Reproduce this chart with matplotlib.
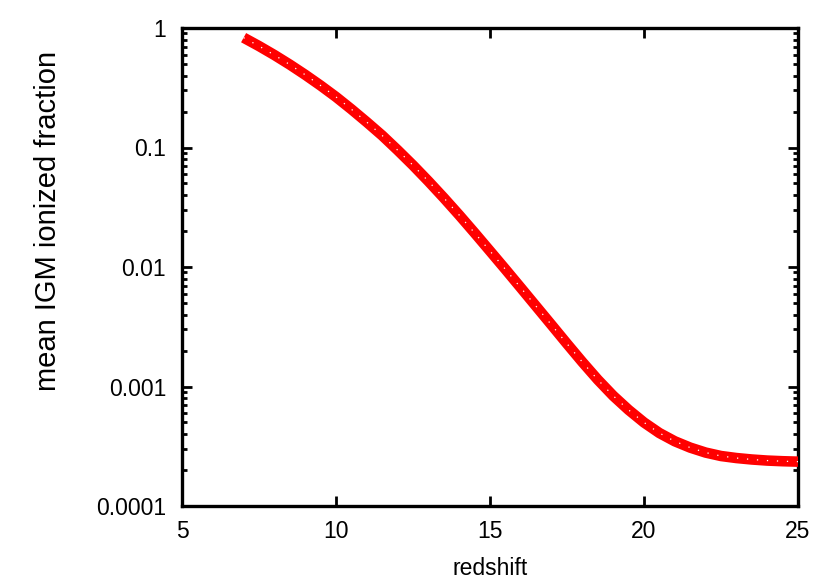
import numpy as np
import matplotlib
matplotlib.use("Agg")
import matplotlib.pyplot as plt
from matplotlib.ticker import LogLocator, FixedLocator, NullFormatter, NullLocator

# Data
redshift = [7.0, 7.5, 8.0, 8.5, 9.0, 9.5, 10.0, 10.5, 11.0, 11.5, 12.0, 12.5, 13.0,
            13.5, 14.0, 14.5, 15.0, 15.5, 16.0, 16.5, 17.0, 17.5, 18.0, 18.5, 19.0,
            19.5, 20.0, 20.5, 21.0, 21.5, 22.0, 22.5, 23.0, 23.5, 24.0, 24.5, 25.0]
ionized_fraction = [0.830, 0.706, 0.594, 0.494, 0.406, 0.330, 0.265, 0.209, 0.163, 0.126,
                    0.0951, 0.0710, 0.0522, 0.0379, 0.0272, 0.0193, 0.0136, 0.00957,
                    0.00670, 0.00468, 0.00327, 0.00228, 0.00160, 0.00114, 0.000836,
                    0.000637, 0.000500, 0.000408, 0.000348, 0.000308, 0.000280,
                    0.000262, 0.000252, 0.000245, 0.000240, 0.000237, 0.000235]

x_ticks = [5, 10, 15, 20, 25]
x_tick_labels = ["5", "10", "15", "20", "25"]
y_ticks = [1e-4, 1e-3, 1e-2, 1e-1, 1]
y_tick_labels = ["0.0001", "0.001", "0.01", "0.1", "1"]

plt.rcParams['font.family'] = ['Liberation Sans', 'DejaVu Sans']

fig = plt.figure(figsize=(8.3, 5.81), dpi=100)
ax = fig.add_axes([182/830, 1 - 506/581, (798 - 182)/830, (506 - 28)/581])

ax.plot(redshift, ionized_fraction, color='#ff0000', lw=7.6, solid_capstyle='butt',
        solid_joinstyle='round', zorder=3)
ax.plot(redshift, ionized_fraction, color='white', lw=0.9, ls=(0, (1, 7)), zorder=4)

ax.set_yscale('log')
ax.set_xlim(5, 25)
ax.set_ylim(1e-4, 1)

ax.xaxis.set_major_locator(FixedLocator(x_ticks))
ax.set_xticklabels(x_tick_labels)
ax.xaxis.set_minor_locator(NullLocator())
ax.yaxis.set_major_locator(FixedLocator(y_ticks))
ax.set_yticklabels(y_tick_labels)
ax.yaxis.set_minor_locator(LogLocator(base=10, subs=np.arange(2, 10), numticks=20))
ax.yaxis.set_minor_formatter(NullFormatter())

ax.tick_params(which='both', direction='in', top=True, right=True, colors='black',
               labelsize=16.5, width=2.0)
ax.tick_params(which='major', length=7)
ax.tick_params(which='minor', length=3.5)
ax.tick_params(axis='y', which='major', pad=11.5)
ax.tick_params(axis='x', which='major', pad=10)

for s in ax.spines.values():
    s.set_linewidth(2.4)
    s.set_color('black')

fig.text(490/830, 1 - 575/581, 'redshift', fontsize=16.5, ha='center', va='baseline')
fig.text(48/830, 1 - 221/581, 'mean IGM ionized fraction', fontsize=21, rotation=90,
         ha='center', va='center')

fig.savefig('out.png', dpi=100)
